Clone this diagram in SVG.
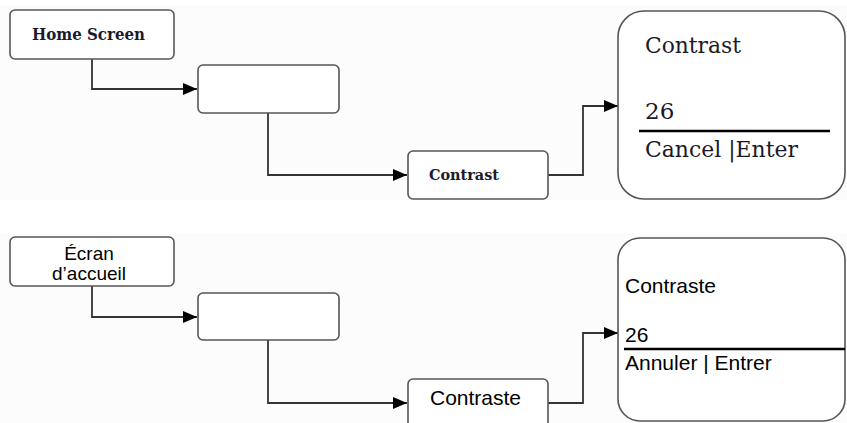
<svg xmlns="http://www.w3.org/2000/svg" width="847" height="423" viewBox="0 0 847 423">
<defs>
<marker id="arr" viewBox="0 0 14 12" refX="14" refY="6" markerWidth="14" markerHeight="12" markerUnits="userSpaceOnUse" orient="auto">
<path d="M0,0 L14,6 L0,12 Z" fill="#000"/>
</marker>
</defs>
<style>
.box{fill:#fff;stroke:#555;stroke-width:1.6}
.con{fill:none;stroke:#333;stroke-width:1.8;marker-end:url(#arr)}
.serif{font-family:"DejaVu Serif","Liberation Serif",serif;fill:#1a1a2a}
.sans{font-family:"Liberation Sans",Arial,sans-serif;fill:#000}
.rule{stroke:#000;stroke-width:2.5}
</style>
<rect x="0" y="0" width="847" height="423" fill="#fff"/>
<rect x="0" y="5" width="847" height="195" fill="#fbfcfb"/>
<rect x="0" y="233" width="847" height="190" fill="#fbfcfb"/>
<g id="connectors">
<path class="con" d="M92,59 V89 H197"/>
<path class="con" d="M268,113 V175 H407"/>
<path class="con" d="M548,175 H583 V106 H618"/>
<path class="con" d="M92,286 V317 H197"/>
<path class="con" d="M268,340 V403 H407"/>
<path class="con" d="M548,403 H583 V333 H618"/>
</g>
<g id="home-screen">
<rect class="box" x="10" y="10" width="164" height="49" rx="5"/>
<text class="serif" x="32" y="40" font-size="16" font-weight="bold" textLength="113" lengthAdjust="spacingAndGlyphs">Home Screen</text>
</g>
<g id="blank-top">
<rect class="box" x="198" y="65" width="141" height="48" rx="5"/>
</g>
<g id="contrast-top">
<rect class="box" x="408" y="151" width="140" height="48" rx="5"/>
<text class="serif" x="429" y="180" font-size="15.5" font-weight="bold" textLength="70" lengthAdjust="spacingAndGlyphs">Contrast</text>
</g>
<g id="screen-top">
<rect class="box" x="618" y="11" width="227" height="188" rx="26"/>
<text class="serif" x="645" y="53" font-size="23" textLength="96" lengthAdjust="spacingAndGlyphs">Contrast</text>
<text class="serif" x="645" y="119" font-size="23">26</text>
<line class="rule" x1="639" y1="131" x2="830" y2="131"/>
<text class="serif" x="645" y="157" font-size="23" textLength="153" lengthAdjust="spacingAndGlyphs">Cancel |Enter</text>
</g>
<g id="ecran-accueil">
<rect class="box" x="10" y="237" width="164" height="49" rx="5"/>
<text class="sans" x="89" y="260" font-size="19" text-anchor="middle">Écran</text>
<text class="sans" x="89" y="280" font-size="19" text-anchor="middle">d’accueil</text>
</g>
<g id="blank-bottom">
<rect class="box" x="198" y="293" width="141" height="47" rx="5"/>
</g>
<g id="contraste-bottom">
<rect class="box" x="408" y="379" width="140" height="60" rx="5"/>
<text class="sans" x="430" y="405" font-size="21">Contraste</text>
</g>
<g id="screen-bottom">
<rect class="box" x="618" y="238" width="227" height="183" rx="22"/>
<text class="sans" x="625" y="293" font-size="21">Contraste</text>
<text class="sans" x="625" y="342" font-size="21">26</text>
<line class="rule" x1="624" y1="349" x2="845" y2="349"/>
<text class="sans" x="625" y="370" font-size="21">Annuler | Entrer</text>
</g>
</svg>
